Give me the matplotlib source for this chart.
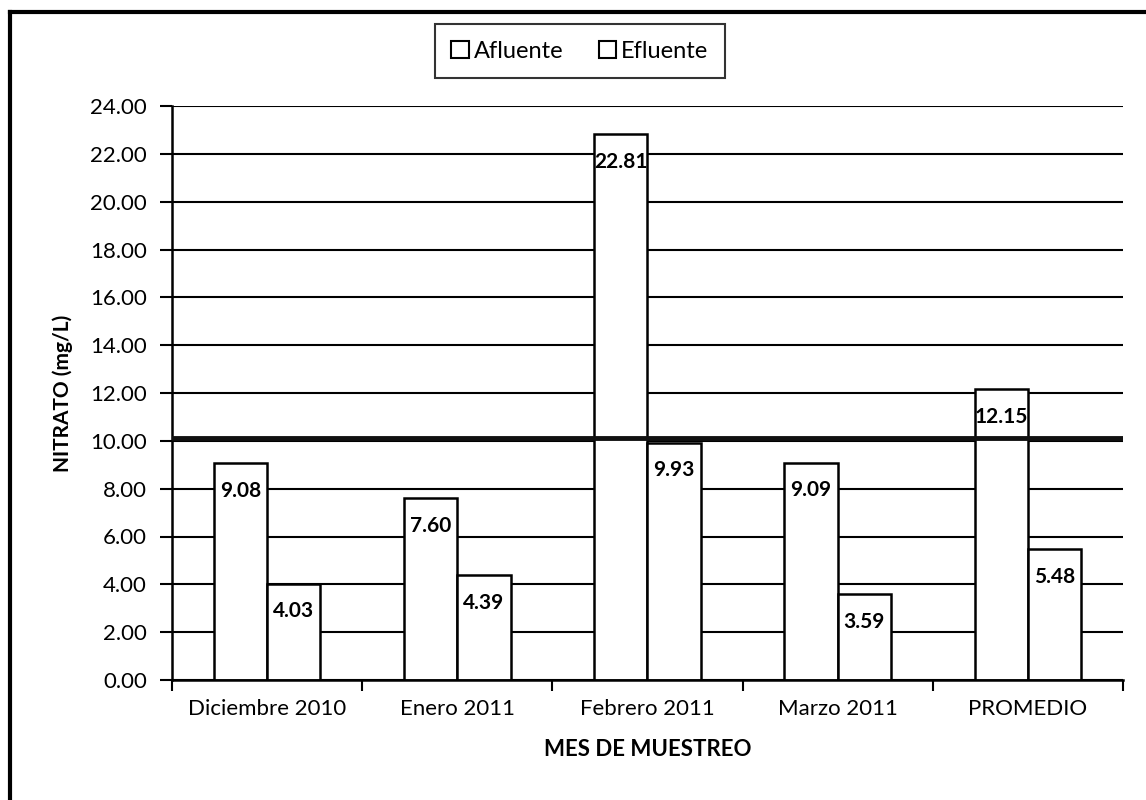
import numpy as np
import matplotlib
matplotlib.use("Agg")
import matplotlib.pyplot as plt
from matplotlib.patches import Patch
from matplotlib.lines import Line2D

plt.rcParams['font.family'] = ['Lato', 'DejaVu Sans']

# nitrato por mes de muestreo (mg/L)
meses = ["Diciembre 2010", "Enero 2011", "Febrero 2011", "Marzo 2011", "PROMEDIO"]
afluente = [9.08, 7.60, 22.81, 9.09, 12.15]
efluente = [4.03, 4.39, 9.93, 3.59, 5.48]
limite = 10.1
y_ticks = [0, 2, 4, 6, 8, 10, 12, 14, 16, 18, 20, 22, 24]

fig = plt.figure(figsize=(11.46, 8), dpi=100)
ax = fig.add_axes([0.1501, 0.15, 0.8298, 0.7175])

x = np.arange(len(meses))
w = 0.28
b1 = ax.bar(x - w / 2, afluente, w, color='white', edgecolor='black', lw=1.8, zorder=2)
b2 = ax.bar(x + w / 2, efluente, w, color='white', edgecolor='black', lw=1.8, zorder=2)

# linea del limite
ax.axhline(limite, color='#111111', lw=3.5, zorder=3)

for bars, vals in ((b1, afluente), (b2, efluente)):
    for r, v in zip(bars, vals):
        ax.annotate(f"{v:.2f}", (r.get_x() + r.get_width() / 2, v),
                    xytext=(0, -20), textcoords='offset points',
                    ha='center', va='center', fontsize=15, fontweight='bold',
                    zorder=4)

ax.set_xlim(-0.5, len(meses) - 0.5)
ax.set_ylim(0, 24)
ax.set_yticks(y_ticks)
ax.set_yticklabels([f"{t:.2f}" for t in y_ticks], fontsize=16)
ax.yaxis.grid(True, color='black', lw=1.5, zorder=0)
ax.set_axisbelow(True)

ax.set_xticks(x)
ax.set_xticklabels(meses, fontsize=16)
ax.set_xticks(np.arange(len(meses) + 1) - 0.5, minor=True)
ax.tick_params(axis='x', which='major', length=0, pad=14)
ax.tick_params(axis='x', which='minor', length=8, width=1.5, direction='out')
ax.tick_params(axis='y', length=9, width=1.5, direction='out', pad=9)

for s in ('top', 'right'):
    ax.spines[s].set_visible(False)
for s in ('left', 'bottom'):
    ax.spines[s].set_linewidth(1.8)

ax.set_xlabel("MES DE MUESTREO", fontsize=16, fontweight='bold', labelpad=14)
ax.set_ylabel("NITRATO (mg/L)", fontsize=15, fontweight='bold', labelpad=12)

handles = [Patch(facecolor='white', edgecolor='black', lw=1.5, label='Afluente'),
           Patch(facecolor='white', edgecolor='black', lw=1.5, label='Efluente')]
fig.legend(handles=handles, loc='center', bbox_to_anchor=(0.506, 0.936), ncol=2,
           fontsize=17, frameon=True, fancybox=False, edgecolor='black',
           handlelength=0.75, handleheight=0.75, handletextpad=0.2,
           columnspacing=1.5, borderpad=0.7, borderaxespad=0)
leg = fig.legends[0]
leg.get_frame().set_linewidth(1.5)

# marco exterior
fig.add_artist(Line2D([0.009, 1.0], [0.985, 0.985], color='black', lw=3, transform=fig.transFigure))
fig.add_artist(Line2D([0.009, 0.009], [0.0, 0.985], color='black', lw=3, transform=fig.transFigure))

fig.savefig("out.png", dpi=100)
